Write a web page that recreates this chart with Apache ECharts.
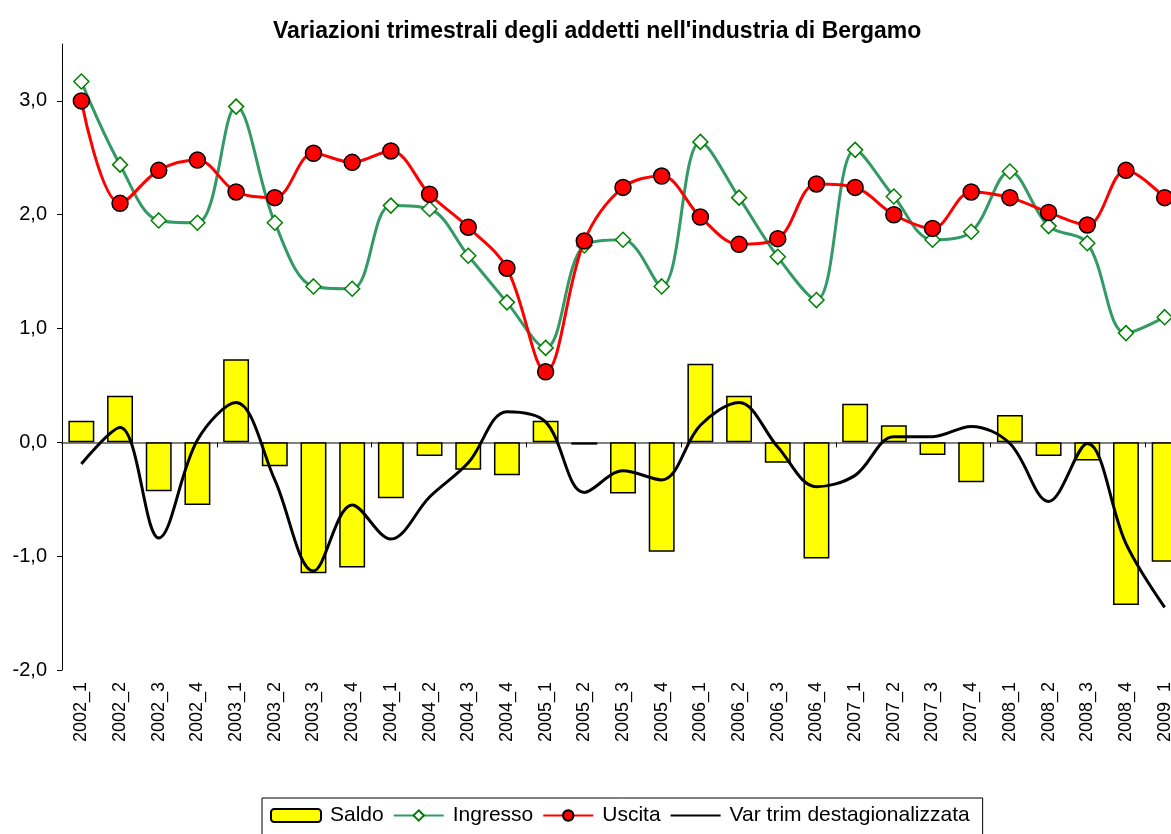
<!DOCTYPE html>
<html>
<head>
<meta charset="utf-8">
<script src="https://cdn.jsdelivr.net/npm/echarts@6/dist/echarts.min.js"></script>
<style>
  html, body { margin: 0; padding: 0; background: #fff; overflow: hidden; }
  /* il grafico originale è tagliato sul bordo destro */
  #chart { width: 1200px; height: 834px; }
</style>
</head>
<body>
<div id="chart"></div>
<script>
// trimestri
const categories = [
  '2002_1', '2002_2', '2002_3', '2002_4', '2003_1', '2003_2', '2003_3', '2003_4',
  '2004_1', '2004_2', '2004_3', '2004_4', '2005_1', '2005_2', '2005_3', '2005_4',
  '2006_1', '2006_2', '2006_3', '2006_4', '2007_1', '2007_2', '2007_3', '2007_4',
  '2008_1', '2008_2', '2008_3', '2008_4', '2009_1'
];

const saldo = [
  0.19, 0.41, -0.43, -0.55, 0.73, -0.21, -1.15, -1.10,
  -0.49, -0.12, -0.24, -0.29, 0.19, -0.02, -0.45, -0.96,
  0.69, 0.41, -0.18, -1.02, 0.34, 0.15, -0.11, -0.35,
  0.24, -0.12, -0.16, -1.43, -1.05
];

const ingresso = [
  3.17, 2.44, 1.95, 1.93, 2.95, 1.93, 1.37, 1.35,
  2.08, 2.05, 1.64, 1.23, 0.83, 1.73, 1.78, 1.37,
  2.64, 2.15, 1.63, 1.25, 2.57, 2.16, 1.78, 1.85,
  2.38, 1.90, 1.75, 0.96, 1.10
];

const uscita = [
  3.00, 2.10, 2.39, 2.48, 2.20, 2.15, 2.54, 2.46,
  2.56, 2.18, 1.89, 1.53, 0.62, 1.77, 2.24, 2.34,
  1.98, 1.74, 1.79, 2.27, 2.24, 2.00, 1.88, 2.20,
  2.15, 2.02, 1.91, 2.39, 2.15
];

const varTrim = [
  -0.19, 0.13, -0.84, 0.02, 0.35, -0.33, -1.13, -0.55,
  -0.85, -0.48, -0.18, 0.27, 0.18, -0.44, -0.25, -0.33,
  0.15, 0.35, -0.04, -0.39, -0.29, 0.05, 0.05, 0.14,
  -0.01, -0.52, -0.01, -0.89, -1.45
];

const yTicks = [-2, -1, 0, 1, 2, 3];

const FONT = '"Liberation Sans", Arial, sans-serif';

const chart = echarts.init(document.getElementById('chart'));

const option = {
  animation: false,
  textStyle: { fontFamily: FONT, color: '#000' },
  title: {
    text: "Variazioni trimestrali degli addetti nell'industria di Bergamo",
    left: 268,
    top: 15,
    textStyle: { fontFamily: FONT, fontSize: 23, fontWeight: 'bold', color: '#000' }
  },
  legend: {
    left: 262,
    top: 798,
    orient: 'horizontal',
    borderColor: '#000',
    borderWidth: 1,
    padding: [7, 13, 20, 8],
    itemGap: 9,
    itemWidth: 50,
    itemHeight: 13,
    textStyle: { fontFamily: FONT, fontSize: 21, color: '#000', padding: [0, 0, 0, 4] },
    data: [
      'Saldo',
      'Ingresso',
      'Uscita',
      // solo la linea, senza simbolo
      { name: 'Var trim destagionalizzata', itemStyle: { color: 'rgba(0,0,0,0)', borderWidth: 0, opacity: 0 } }
    ]
  },
  grid: { left: 62, top: 44, width: 1122, height: 626 },
  xAxis: [
    {
      type: 'category',
      data: categories,
      position: 'bottom',
      axisLine: { show: false, onZero: false },
      axisTick: { show: false },
      axisLabel: {
        interval: 0,
        rotate: 90,
        margin: 12,
        fontFamily: FONT,
        fontSize: 18,
        color: '#000'
      }
    },
    {
      // asse sullo zero con le tacche annuali
      type: 'category',
      data: categories,
      position: 'bottom',
      axisLine: { show: true, onZero: true, lineStyle: { color: '#808080', width: 2 } },
      axisTick: { show: true, interval: 3, length: 5, lineStyle: { color: '#000', width: 1 } },
      axisLabel: { show: false }
    }
  ],
  yAxis: {
    type: 'value',
    min: -2,
    max: 3.5,
    interval: 1,
    splitLine: { show: false },
    axisLine: { show: true, lineStyle: { color: '#000', width: 1 } },
    axisTick: {
      show: true,
      length: 5,
      lineStyle: { color: '#000' }
    },
    axisLabel: {
      fontFamily: FONT,
      fontSize: 20,
      color: '#000',
      margin: 15,
      showMaxLabel: false,
      formatter: function (v) {
        return yTicks.indexOf(v) >= 0 ? v.toFixed(1).replace('.', ',') : '';
      }
    }
  },
  series: [
    {
      name: 'Saldo',
      type: 'bar',
      data: saldo,
      barWidth: '67%',
      itemStyle: { color: '#FFFF00', borderColor: '#000', borderWidth: 1.5 },
      z: 1
    },
    {
      name: 'Ingresso',
      type: 'line',
      data: ingresso,
      smooth: 0.35,
      symbol: 'diamond',
      symbolSize: 15,
      lineStyle: { color: '#339966', width: 3 },
      itemStyle: { color: '#FFFFFF', borderColor: '#008000', borderWidth: 1.5 },
      z: 3
    },
    {
      name: 'Uscita',
      type: 'line',
      data: uscita,
      smooth: 0.35,
      symbol: 'circle',
      symbolSize: 16,
      lineStyle: { color: '#FF0000', width: 3 },
      itemStyle: { color: '#FF0000', borderColor: '#000', borderWidth: 1.5 },
      z: 4
    },
    {
      name: 'Var trim destagionalizzata',
      type: 'line',
      data: varTrim,
      smooth: 0.35,
      symbol: 'none',
      lineStyle: { color: '#000', width: 3 },
      itemStyle: { color: '#000' },
      z: 5
    }
  ]
};

chart.setOption(option);
</script>
</body>
</html>
